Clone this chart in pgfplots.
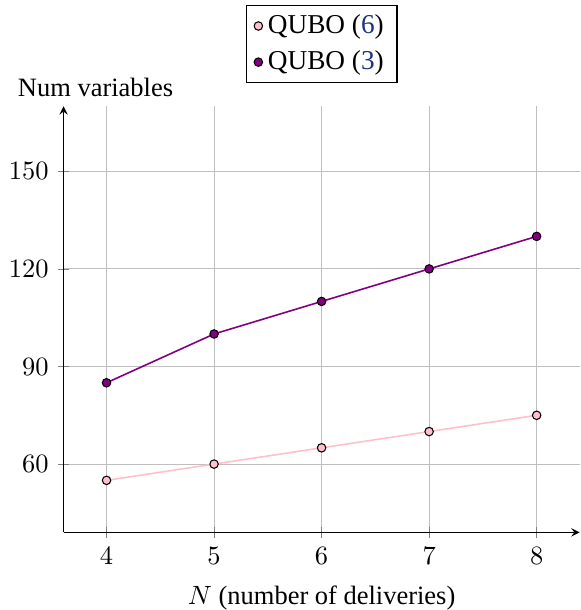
\documentclass[border=0pt]{standalone}
\usepackage{pgfplots}
\pgfplotsset{compat=1.18}
\usepackage{fontspec}
\setmainfont{Liberation Serif}
\definecolor{citeblue}{rgb}{0.1,0.2,0.5}
\definecolor{mypurple}{rgb}{0.5,0,0.5}
\definecolor{mypink}{rgb}{1,0.75,0.8}
\begin{document}
\begin{tikzpicture}
\begin{axis}[
  scale only axis,
  width=195pt, height=161pt,
  axis lines=left,
  xmin=3.6, xmax=8.4,
  ymin=39, ymax=170,
  xtick={4,5,6,7,8},
  ytick={60,90,120,150},
  grid=major,
  grid style={gray!50, line width=0.35pt},
  xlabel={$N$ (number of deliveries)},
  xlabel style={inner sep=0pt, yshift=-4.5pt},
  ylabel={Num variables},
  ylabel style={at={(axis description cs:0.062,1)}, anchor=south, rotate=-90, yshift=0pt},
  legend style={at={(0.5,1.055)}, anchor=south, legend cell align=left, draw=black, inner xsep=3pt, inner ysep=1.3pt, row sep=1pt, font=\fontsize{10.3}{12.5}\selectfont},
  legend image code/.code={\path[#1] plot coordinates {(0.1cm,0cm)};},
  mark size=1.6pt,
]
\addplot[color=mypink, semithick, mark=*, mark options={fill=mypink, draw=black, thin}] coordinates {(4,55) (5,60) (6,65) (7,70) (8,75)};
\addlegendentry{QUBO (\textcolor{citeblue}{6})}
\addplot[color=mypurple, semithick, mark=*, mark options={fill=mypurple, draw=black, thin}] coordinates {(4,85) (5,100) (6,110) (7,120) (8,130)};
\addlegendentry{QUBO (\textcolor{citeblue}{3})}
\end{axis}
\path (current axis.north) ++(0,2pt) coordinate (dummy);
\path ([yshift=2pt]current bounding box.north) circle (0pt);
\end{tikzpicture}
\end{document}
